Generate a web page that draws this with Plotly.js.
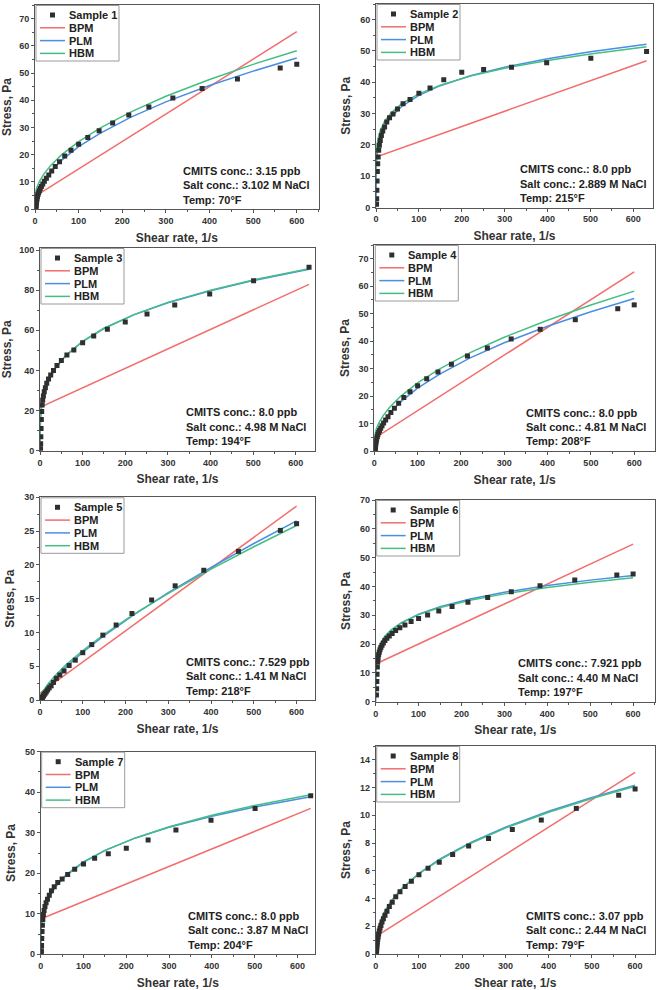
<!DOCTYPE html>
<html>
<head>
<meta charset="utf-8">
<script src="https://cdn.plot.ly/plotly-3.0.1.min.js"></script>
<style>html,body{margin:0;padding:0;background:#fff;}#chart{width:661px;height:990px;}</style>
</head>
<body>
<div id="chart"></div>
<script>
// ---------------- DATA ----------------
const sampleNames = ['Sample 1','Sample 2','Sample 3','Sample 4','Sample 5','Sample 6','Sample 7','Sample 8'];
const modelNames = ['BPM','PLM','HBM'];
const cmitsConc = ['3.15','8.0','8.0','8.0','7.529','7.921','8.0','3.07'];
const saltConc = ['3.102','2.889','4.98','4.81','1.41','4.40','3.87','2.44'];
const tempF = ['70','215','194','208','218','197','204','79'];

// measured shear rates (1/s)
const shearA = [1.78,2.15,2.61,3.16,3.83,4.64,5.62,6.81,8.25,10,12.1,14.7,17.8,21.5,26.1,31.6,38.3,46.4,56.2,68.1,82.5,100,121,147,178,215,261,316,383,464,562,600];
const shearB = [1.26,1.58,2.0,2.51,3.16,3.98,5.01,6.31,7.94,10,12.6,15.8,20,25.1,31.6,39.8,50.1,63.1,79.4,100,126,158,200,251,316,398,501,631];

// measured stresses (Pa)
const stress1 = [0.3,0.8,1.4,2.2,3.0,3.8,4.6,5.3,6.0,6.7,7.5,8.3,9.2,10.2,11.3,12.5,14.0,15.6,17.4,19.5,21.6,23.8,26.3,28.8,31.6,34.6,37.5,40.8,44.3,47.8,51.8,53.2];
const stress2 = [1.0,2.8,5.5,8.5,11.5,14.0,16.1,18.3,19.9,21.4,23.0,24.4,25.7,27.3,28.7,29.9,31.5,33.1,34.5,36.5,38.2,40.8,43.2,44.1,44.8,46.2,47.7,49.8];
const stress3 = [1.0,3.5,7.0,11.0,15.5,19.5,22.8,25.2,27.2,29.4,31.4,33.6,35.7,37.7,39.9,42.4,44.9,47.7,50.2,53.8,57.1,60.5,64.1,68.1,72.6,78.1,84.7,91.4];
const stress4 = [0.3,0.8,1.4,2.2,3.0,3.8,4.6,5.3,6.0,6.7,7.5,8.3,9.2,10.2,11.3,12.5,14.0,15.6,17.4,19.5,21.6,23.8,26.3,28.8,31.6,34.6,37.5,40.8,44.3,47.8,51.8,53.2];
const stress5 = [0.1,0.15,0.2,0.25,0.3,0.35,0.4,0.5,0.65,0.8,1.0,1.2,1.5,1.8,2.1,2.6,3.2,3.7,4.3,5.1,5.9,7.0,8.2,9.6,11.1,12.8,14.8,16.9,19.2,22.0,25.1,26.1];
const stress6 = [2.3,4.5,7.0,9.5,12.0,13.8,15.2,16.3,17.2,18.0,18.8,19.6,20.4,21.2,22.0,22.8,23.7,24.7,25.7,26.6,27.8,28.9,30.1,31.5,33.0,34.5,36.2,38.2,40.2,42.2,44.0,44.3];
const stress7 = [0.3,0.9,2.2,3.9,5.6,7.2,8.6,9.8,10.8,11.8,12.7,13.6,14.6,15.7,16.7,17.7,18.6,19.7,21.0,22.3,23.7,24.8,26.2,28.2,30.7,33.1,36.0,39.1];
const stress8 = [0.1,0.25,0.45,0.65,0.85,1.05,1.25,1.45,1.65,1.85,2.05,2.3,2.55,2.8,3.09,3.43,3.74,4.13,4.49,4.86,5.24,5.72,6.18,6.62,7.17,7.78,8.33,8.98,9.66,10.5,11.45,11.9];

// model curves read at these shear rates
const grid600 = [0,0.3,1,2.5,5,10,20,35,60,100,150,220,300,400,500,600];
const grid631 = [0,0.3,1,2.5,5,10,20,35,60,100,150,220,300,400,500,631];

const plm1 = [0,1.29,2.34,3.68,5.19,7.32,10.31,13.6,17.8,22.9,27.9,33.8,39.4,45.4,50.7,55.5];
const hbm1 = [4.0,4.93,5.77,6.89,8.18,10.06,12.79,15.85,19.81,24.79,29.83,35.70,41.43,47.62,53.18,58.2];
const plm2 = [0,10.95,14.0,16.88,19.44,22.40,25.80,28.91,32.27,35.82,38.91,42.07,44.82,47.52,49.74,52.16];
const hbm2 = [8,15.40,17.77,20.07,22.17,24.63,27.52,30.21,33.15,36.31,39.09,41.96,44.49,46.98,49.05,51.32];
const plm3 = [0,11.02,15.35,19.75,23.89,28.92,34.99,40.80,47.32,54.46,60.89,67.66,73.68,79.73,84.79,90.38];
const hbm3 = [1.5,11.8,15.6,19.9,23.9,28.8,34.9,40.7,47.3,54.5,61.0,67.8,73.9,80.0,85.1,90.7];
const plm4 = [0,1.29,2.34,3.68,5.19,7.32,10.31,13.6,17.8,22.9,27.9,33.8,39.4,45.4,50.7,55.5];
const hbm4 = [4.0,4.93,5.77,6.89,8.18,10.06,12.79,15.85,19.81,24.79,29.83,35.70,41.43,47.62,53.18,58.2];
const plm5 = [0,0.098,0.2375,0.466,0.778,1.296,2.161,3.263,4.852,7.07,9.54,12.65,15.90,19.64,23.16,26.50];
const hbm5 = [0.3,0.41,0.555,0.79,1.11,1.64,2.50,3.60,5.16,7.32,9.71,12.70,15.79,19.36,22.68,25.82];
const plm6 = [0,9.22,11.8,14.24,16.41,18.92,21.81,24.46,27.31,30.33,32.96,35.66,37.99,40.30,42.19,43.79];
const hbm6 = [5,11.66,13.78,15.83,17.69,19.88,22.44,24.82,27.42,30.21,32.66,35.20,37.42,39.62,41.45,42.99];
const plm7 = [0,4.26,6.03,7.86,9.60,11.73,14.33,16.85,19.69,22.82,25.66,28.66,31.35,34.06,36.34,38.86];
const hbm7 = [1,4.58,6.2,7.91,9.56,11.62,14.16,16.65,19.50,22.68,25.59,28.68,31.47,34.31,36.71,39.37];
const plm8 = [0,0.527,0.867,1.266,1.685,2.244,2.988,3.764,4.703,5.808,6.868,8.044,9.144,10.295,11.293,12.17];
const hbm8 = [0.2,0.68,1.0,1.38,1.78,2.31,3.03,3.79,4.70,5.79,6.83,7.99,9.08,10.22,11.22,12.10];

// Bingham straight lines (end points)
const bpmX1 = [0,600], bpmY1 = [4.6,65.2];
const bpmX2 = [0,631], bpmY2 = [16.1,46.9];
const bpmX3 = [0,631], bpmY3 = [21.6,82.9];
const bpmX4 = [0,600], bpmY4 = [4.6,65.2];
const bpmX5 = [0,600], bpmY5 = [1.0,28.7];
const bpmX6 = [0,600], bpmY6 = [13.1,54.7];
const bpmX7 = [0,631], bpmY7 = [8.7,36.0];
const bpmX8 = [0,600], bpmY8 = [1.26,13.1];

// ---------------- ASSEMBLY ----------------
const series = [
  {sx:shearA, sy:stress1, gx:grid600, plm:plm1, hbm:hbm1, bx:bpmX1, by:bpmY1},
  {sx:shearB, sy:stress2, gx:grid631, plm:plm2, hbm:hbm2, bx:bpmX2, by:bpmY2},
  {sx:shearB, sy:stress3, gx:grid631, plm:plm3, hbm:hbm3, bx:bpmX3, by:bpmY3},
  {sx:shearA, sy:stress4, gx:grid600, plm:plm4, hbm:hbm4, bx:bpmX4, by:bpmY4},
  {sx:shearA, sy:stress5, gx:grid600, plm:plm5, hbm:hbm5, bx:bpmX5, by:bpmY5},
  {sx:shearA, sy:stress6, gx:grid600, plm:plm6, hbm:hbm6, bx:bpmX6, by:bpmY6},
  {sx:shearB, sy:stress7, gx:grid631, plm:plm7, hbm:hbm7, bx:bpmX7, by:bpmY7},
  {sx:shearA, sy:stress8, gx:grid600, plm:plm8, hbm:hbm8, bx:bpmX8, by:bpmY8}
];

// panel geometry in pixels (plot frame) + axis settings
const W = 661, H = 990;
const panels = [
  {L:35,    R:318.6, T:5,     B:209,   xmax:650, ymax:75,  dy:10, my:5,   annX:181},
  {L:376,   R:653,   T:4,     B:207.5, xmax:646, ymax:65,  dy:10, my:5,   annX:517.7},
  {L:40,    R:315,   T:248,   B:450.7, xmax:645, ymax:101, dy:20, my:10,  annX:184.3},
  {L:374.3, R:655,   T:245,   B:451,   xmax:648, ymax:75,  dy:10, my:5,   annX:524.3},
  {L:40,    R:315,   T:497.3, B:700,   xmax:643, ymax:30,  dy:5,  my:2.5, annX:184.3},
  {L:375.7, R:655,   T:500,   B:701.7, xmax:651, ymax:70,  dy:10, my:5,   annX:515.7},
  {L:40.7,  R:315,   T:751.7, B:954.3, xmax:641, ymax:50,  dy:10, my:5,   annX:185.7},
  {L:375.7, R:655,   T:746,   B:954,   xmax:646, ymax:15,  dy:2,  my:1,   annX:524.3}
];

const colors = {BPM:'#F26D6D', PLM:'#4B8EE3', HBM:'#45BE85'};
const FONT = 'Liberation Sans, Arial, sans-serif';
const px = x => x / W;
const py = y => 1 - y / H;

const traces = [];
const layout = {
  width: W, height: H,
  margin: {l:0, r:0, t:0, b:0},
  paper_bgcolor: '#fff', plot_bgcolor: '#fff',
  showlegend: false,
  font: {family: FONT, color: '#333'},
  shapes: [], annotations: []
};

panels.forEach((p, i) => {
  const n = i + 1;
  const xa = 'x' + (n > 1 ? n : ''), ya = 'y' + (n > 1 ? n : '');
  const s = series[i];
  traces.push({type:'scatter', mode:'lines', x:s.bx, y:s.by, xaxis:xa, yaxis:ya, name:'BPM',
               line:{color:colors.BPM, width:1.5}, hoverinfo:'skip'});
  traces.push({type:'scatter', mode:'lines', x:s.gx, y:s.plm, xaxis:xa, yaxis:ya, name:'PLM',
               line:{color:colors.PLM, width:1.5}, hoverinfo:'skip'});
  traces.push({type:'scatter', mode:'lines', x:s.gx, y:s.hbm, xaxis:xa, yaxis:ya, name:'HBM',
               line:{color:colors.HBM, width:1.5}, hoverinfo:'skip'});
  traces.push({type:'scatter', mode:'markers', x:s.sx, y:s.sy, xaxis:xa, yaxis:ya, name:sampleNames[i],
               marker:{symbol:'square', size:5, color:'#2f2f2f', line:{width:0}}, hoverinfo:'skip'});

  const common = {
    showline:true, mirror:true, linecolor:'#555', linewidth:1,
    ticks:'outside', ticklen:3, tickcolor:'#555', tickwidth:1,
    showgrid:false, zeroline:false, automargin:false,
    tickfont:{family:FONT, size:9, color:'#333', weight:'bold'}
  };
  layout['xaxis' + (n > 1 ? n : '')] = Object.assign({}, common, {
    domain:[px(p.L), px(p.R)], range:[0, p.xmax], anchor:ya,
    tick0:0, dtick:100,
    minor:{dtick:50, ticks:'outside', ticklen:2, tickcolor:'#555'},
    title:{text:'<b>Shear rate, 1/s</b>', standoff:8, font:{family:FONT, size:12, color:'#333'}}
  });
  layout['yaxis' + (n > 1 ? n : '')] = Object.assign({}, common, {
    domain:[py(p.B), py(p.T)], range:[0, p.ymax], anchor:xa,
    tick0:0, dtick:p.dy,
    minor:{dtick:p.my, ticks:'outside', ticklen:2, tickcolor:'#555'},
    title:{text:'<b>Stress, Pa</b>', standoff:6, font:{family:FONT, size:12, color:'#333'}}
  });

  // legend (manual, compact like the original)
  const bx0 = p.L + 1, bx1 = p.L + 84, by0 = p.T + 0.5, by1 = p.T + 56;
  layout.shapes.push({type:'rect', xref:'paper', yref:'paper', x0:px(bx0), x1:px(bx1), y0:py(by1), y1:py(by0),
                      line:{color:'#9a9a9a', width:1}, fillcolor:'#fff', layer:'above'});
  const rows = [10, 22.8, 35.6, 48.4];
  // marker sample
  layout.shapes.push({type:'rect', xref:'paper', yref:'paper',
                      x0:px(p.L + 15), x1:px(p.L + 20), y0:py(p.T + rows[0] + 2.5), y1:py(p.T + rows[0] - 2.5),
                      line:{width:0}, fillcolor:'#2f2f2f', layer:'above'});
  modelNames.forEach((m, k) => {
    layout.shapes.push({type:'line', xref:'paper', yref:'paper',
                        x0:px(p.L + 5), x1:px(p.L + 30), y0:py(p.T + rows[k + 1]), y1:py(p.T + rows[k + 1]),
                        line:{color:colors[m], width:1.5}, layer:'above'});
  });
  [sampleNames[i]].concat(modelNames).forEach((t, k) => {
    layout.annotations.push({xref:'paper', yref:'paper', x:px(p.L + 32), y:py(p.T + rows[k]),
                             xanchor:'left', yanchor:'middle', showarrow:false, text:'<b>' + t + '</b>',
                             font:{family:FONT, size:11, color:'#222'}});
  });

  // conditions text
  const info = ['CMITS conc.: ' + cmitsConc[i] + ' ppb',
                'Salt conc.: ' + saltConc[i] + ' M NaCl',
                'Temp: ' + tempF[i] + '°F'];
  const offs = [38.5, 24, 9.5];
  info.forEach((t, k) => {
    layout.annotations.push({xref:'paper', yref:'paper', x:px(p.annX), y:py(p.B - offs[k]),
                             xanchor:'left', yanchor:'middle', showarrow:false, text:'<b>' + t + '</b>',
                             font:{family:FONT, size:11, color:'#222'}});
  });
});

Plotly.newPlot('chart', traces, layout, {displayModeBar:false, staticPlot:true});
</script>
</body>
</html>
